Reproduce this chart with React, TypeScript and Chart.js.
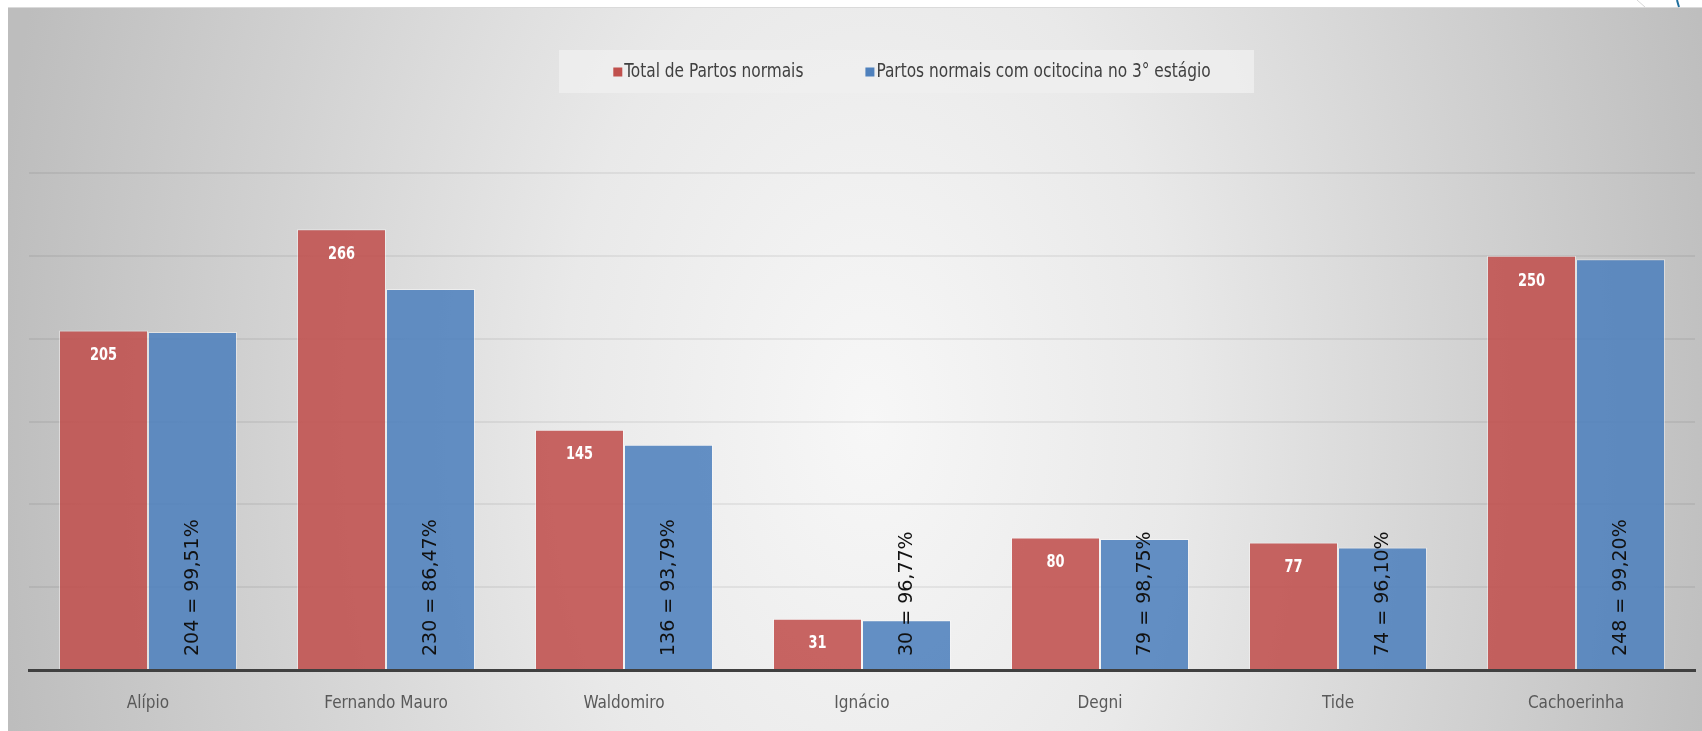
import React, { useEffect, useRef } from 'react';
import { Chart, registerables } from 'chart.js';

Chart.register(...registerables);

const categories = ['Alípio', 'Fernando Mauro', 'Waldomiro', 'Ignácio', 'Degni', 'Tide', 'Cachoerinha'];
const totalPartos = [205, 266, 145, 31, 80, 77, 250];
const partosOcitocina = [204, 230, 136, 30, 79, 74, 248];
const percentLabels = ['99,51%', '86,47%', '93,79%', '96,77%', '98,75%', '96,10%', '99,20%'];
const seriesNames = ['Total de Partos normais', 'Partos normais com ocitocina no 3° estágio'];

const W = 1702;
const H = 731;
const NARROW = '"Liberation Sans Narrow", "DejaVu Sans Condensed", sans-serif';
const RED = '#C0504D';
const BLUE = '#4F81BD';

const bgPlugin = {
  id: 'bgPanel',
  beforeDraw(chart: any) {
    const ctx = chart.ctx as CanvasRenderingContext2D;
    ctx.save();
    ctx.fillStyle = '#ffffff';
    ctx.fillRect(0, 0, W, H);
    const cx = 870, cy = 420, rx = 880, ry = 1400;
    ctx.save();
    ctx.beginPath();
    ctx.rect(8, 8, W - 8, H - 8);
    ctx.clip();
    ctx.translate(cx, cy);
    ctx.scale(1, ry / rx);
    const g = ctx.createRadialGradient(0, 0, 0, 0, 0, rx);
    g.addColorStop(0, '#f7f7f7');
    g.addColorStop(0.35, '#e9e9e9');
    g.addColorStop(0.7, '#d1d1d1');
    g.addColorStop(1, '#bdbdbd');
    ctx.fillStyle = g;
    ctx.fillRect(-cx - 10, (-cy - 10) * rx / ry, W + 20, (H + 20) * rx / ry);
    ctx.restore();
    ctx.fillStyle = '#dadada';
    ctx.fillRect(8, 7, W - 8, 1);
    ctx.strokeStyle = '#d6d6d6';
    ctx.lineWidth = 1;
    ctx.beginPath();
    ctx.moveTo(1637, 0);
    ctx.lineTo(1645, 7);
    ctx.stroke();
    ctx.strokeStyle = '#1f6f9e';
    ctx.lineWidth = 2;
    ctx.beginPath();
    ctx.moveTo(1677, 0);
    ctx.quadraticCurveTo(1678, 4, 1679, 7);
    ctx.stroke();
    ctx.restore();
  },
};

const LEGEND_SX = 0.9;

const legendPlugin = {
  id: 'boxLegend',
  beforeDatasetsDraw(chart: any) {
    const ctx = chart.ctx as CanvasRenderingContext2D;
    ctx.save();
    ctx.fillStyle = 'rgba(238,238,238,0.85)';
    ctx.fillRect(559, 50, 695, 43);
    ctx.font = `19px ${NARROW}`;
    ctx.textBaseline = 'middle';
    ctx.textAlign = 'left';
    const items = chart.data.datasets.map((d: any) => ({ text: d.label, color: d.legendColor }));
    const widths = items.map((it: any) => ctx.measureText(it.text).width * LEGEND_SX);
    const gap = 62;
    const total = widths.reduce((a: number, w: number) => a + 11 + w, 0) + gap * (items.length - 1);
    let x = 912 - total / 2;
    const cy = 72;
    items.forEach((it: any, i: number) => {
      ctx.fillStyle = it.color;
      ctx.fillRect(x, cy - 4.5, 9, 9);
      ctx.fillStyle = '#404040';
      ctx.save();
      ctx.translate(x + 11, cy);
      ctx.scale(LEGEND_SX, 1);
      ctx.fillText(it.text, 0, 0);
      ctx.restore();
      x += 11 + widths[i] + gap;
    });
    ctx.restore();
  },
};

const labelPlugin = {
  id: 'barLabels',
  afterDatasetsDraw(chart: any) {
    const ctx = chart.ctx as CanvasRenderingContext2D;
    const m0 = chart.getDatasetMeta(0);
    const m1 = chart.getDatasetMeta(1);
    ctx.save();
    ctx.fillStyle = '#ffffff';
    ctx.font = `bold 18px ${NARROW}`;
    ctx.textAlign = 'center';
    ctx.textBaseline = 'middle';
    m0.data.forEach((bar: any, i: number) => {
      ctx.save();
      ctx.translate(bar.x, bar.y + 25);
      ctx.scale(0.8, 1);
      ctx.fillText(String(totalPartos[i]), 0, 0);
      ctx.restore();
    });
    ctx.fillStyle = '#111111';
    ctx.font = '19px "DejaVu Sans", sans-serif';
    ctx.textAlign = 'left';
    m1.data.forEach((bar: any, i: number) => {
      ctx.save();
      ctx.translate(bar.x + 1, bar.base - 13);
      ctx.rotate(-Math.PI / 2);
      ctx.fillText(`${partosOcitocina[i]} = ${percentLabels[i]}`, 0, 0);
      ctx.restore();
    });
    ctx.restore();
  },
};

export default function App() {
  const ref = useRef<HTMLCanvasElement | null>(null);
  useEffect(() => {
    if (!ref.current) return;
    const chart = new Chart(ref.current, {
      type: 'bar',
      data: {
        labels: categories,
        datasets: [
          {
            label: seriesNames[0],
            data: totalPartos,
            backgroundColor: 'rgba(192,80,77,0.88)',
            borderColor: 'rgba(255,255,255,0.45)',
            borderWidth: 1,
            categoryPercentage: 0.748,
            barPercentage: 1,
            legendColor: RED,
          } as any,
          {
            label: seriesNames[1],
            data: partosOcitocina,
            backgroundColor: 'rgba(79,129,189,0.88)',
            borderColor: 'rgba(255,255,255,0.45)',
            borderWidth: 1,
            categoryPercentage: 0.748,
            barPercentage: 1,
            legendColor: BLUE,
          } as any,
        ],
      },
      options: {
        responsive: false,
        maintainAspectRatio: false,
        animation: false,
        events: [],
        layout: { padding: { left: 29, right: 7, top: 173, bottom: 0 } },
        plugins: {
          legend: { display: false },
          tooltip: { enabled: false },
        },
        scales: {
          x: {
            grid: { display: false, drawTicks: false },
            border: { display: true, color: '#404040', width: 3 },
            ticks: {
              color: '#595959',
              font: { family: NARROW, size: 17 },
              padding: 23,
              maxRotation: 0,
              autoSkip: false,
            },
            afterFit: (s: any) => {
              s.height = 61;
            },
          },
          y: {
            min: 0,
            max: 300,
            ticks: { display: false, stepSize: 50 },
            grid: { color: 'rgba(0,0,0,0.06)', lineWidth: 2, drawTicks: false },
            border: { display: false },
            afterFit: (s: any) => {
              s.width = 0;
            },
          },
        },
      },
      plugins: [bgPlugin, legendPlugin, labelPlugin],
    });
    return () => chart.destroy();
  }, []);
  return (
    <div style={{ position: 'absolute', left: 0, top: 0, width: W, height: H }}>
      <canvas ref={ref} width={W} height={H} style={{ display: 'block', width: W, height: H }} />
    </div>
  );
}
